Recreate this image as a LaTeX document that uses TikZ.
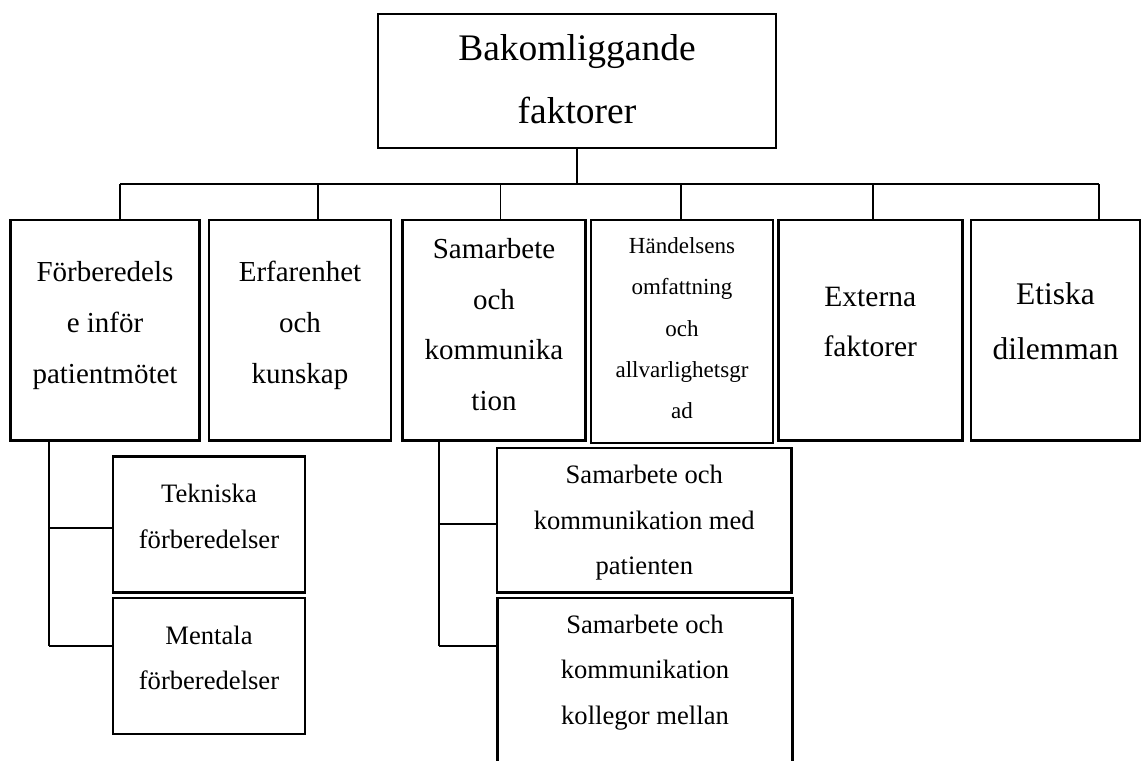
\documentclass[tikz,border=0pt]{standalone}
\usepackage{fontspec}
\setmainfont{Liberation Serif}
\newcommand{\txtlines}[1]{\begin{tabular}[t]{@{}c@{}}#1\end{tabular}}
\begin{document}
\begin{tikzpicture}[x=1pt,y=-1pt,
  box/.style={draw, line width=2.6pt, rectangle, inner sep=0pt, outer sep=0pt},
  txt/.style={anchor=base, inner sep=0pt},
  conn/.style={line width=1.2pt},
  topf/.style={font=\fontsize{37.5}{63.3}\selectfont},
  rowf/.style={font=\fontsize{29}{50.8}\selectfont},
  smallf/.style={font=\fontsize{23}{41.4}\selectfont},
  extf/.style={font=\fontsize{29.5}{50}\selectfont},
  etf/.style={font=\fontsize{31.5}{55.3}\selectfont},
  subf/.style={font=\fontsize{26.6}{45.7}\selectfont}]
\clip (0,0) rectangle (1142,760);
% top
\node[box, minimum width=398pt, minimum height=134pt] (top) at (577,81) {};
\node[txt, topf] (topt) at (577,60) {\txtlines{Bakomliggande\\faktorer}};
% row
\node[box, minimum width=189pt, minimum height=220.7pt] (b1) at (105,330.4) {};
\node[box, minimum width=182pt, minimum height=220.7pt] (b2) at (300,330.4) {};
\node[box, minimum width=182.5pt, minimum height=220.7pt] (b3) at (494,330.4) {};
\node[box, minimum width=182pt, minimum height=223pt] (b4) at (682,331.5) {};
\node[box, minimum width=184pt, minimum height=220.7pt] (b5) at (870.3,330.4) {};
\node[box, minimum width=169pt, minimum height=220.7pt] (b6) at (1055.5,330.4) {};
\node[txt, rowf] (b1t) at (105,281.7) {\txtlines{Förberedels\\e inför\\patientmötet}};
\node[txt, rowf] (b2t) at (300,281.7) {\txtlines{Erfarenhet\\och\\kunskap}};
\node[txt, rowf] (b3t) at (494,258.3) {\txtlines{Samarbete\\och\\kommunika\\tion}};
\node[txt, smallf] (b4t) at (682,253.3) {\txtlines{Händelsens\\omfattning\\och\\allvarlighetsgr\\ad}};
\node[txt, extf] (b5t) at (870.3,306.7) {\txtlines{Externa\\faktorer}};
\node[txt, etf] (b6t) at (1055.5,304) {\txtlines{Etiska\\dilemman}};
% sub boxes
\node[box, minimum width=192pt, minimum height=136pt] (tek) at (209,524.7) {};
\node[box, minimum width=192pt, minimum height=136pt] (men) at (209,666) {};
\node[box, minimum width=294.6pt, minimum height=144.7pt] (sk1) at (644.3,520.3) {};
\node[box, minimum width=295.5pt, minimum height=192pt] (sk2) at (645,694) {};
\node[txt, subf] (tekt) at (209,502.7) {\txtlines{Tekniska\\förberedelser}};
\node[txt, subf] (ment) at (209,644) {\txtlines{Mentala\\förberedelser}};
\node[txt, subf] (sk1t) at (644.3,483.3) {\txtlines{Samarbete och\\kommunikation med\\patienten}};
\node[txt, subf] (sk2t) at (645,633) {\txtlines{Samarbete och\\kommunikation\\kollegor mellan}};
% bus
\coordinate (bus0) at (577,184);
\coordinate (d1) at (120,184);
\coordinate (d2) at (318,184);
\coordinate (d3) at (500.6,184);
\coordinate (d4) at (681,184);
\coordinate (d5) at (873,184);
\coordinate (d6) at (1099,184);
\draw[conn] (top.south -| bus0) -- (bus0);
\draw[conn] (d1) -- (d6);
\foreach \i in {1,...,6}{\draw[conn] (d\i) -- (d\i |- b\i.north);}
% left tree
\coordinate (lt) at (49,528);
\coordinate (lm) at (49,646);
\draw[conn] (b1.south -| lm) -- (lm);
\draw[conn] (lt) -- (lt -| tek.west);
\draw[conn] (lm) -- (lm -| men.west);
% right tree
\coordinate (rt) at (439,524);
\coordinate (rm) at (439,646);
\draw[conn] (b3.south -| rm) -- (rm);
\draw[conn] (rt) -- (rt -| sk1.west);
\draw[conn] (rm) -- (rm -| sk2.west);
\end{tikzpicture}
\end{document}
